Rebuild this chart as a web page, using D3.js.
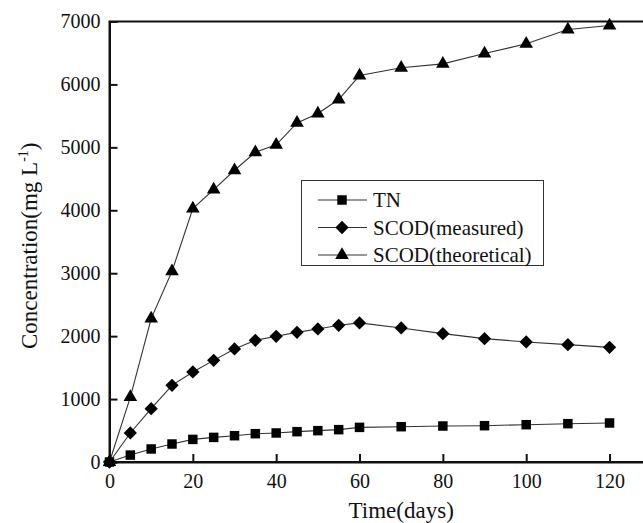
<!DOCTYPE html>
<html>
<head>
<meta charset="utf-8">
<script src="https://cdn.jsdelivr.net/npm/d3@7"></script>
</head>
<body style="margin:0;background:#fff">
<svg id="chart" width="643" height="523" font-family="Liberation Serif" style="display:block"></svg>
<script>
// Sampling days
const days = [0, 5, 10, 15, 20, 25, 30, 35, 40, 45, 50, 55, 60, 70, 80, 90, 100, 110, 120];

// Concentrations (mg/L)
const tn = [0, 110, 207, 286, 359, 391, 418, 450, 461, 482, 498, 514, 550, 561, 572, 577, 593, 609, 620];
const scodMeasured = [0, 461, 847, 1218, 1431, 1615, 1796, 1933, 1997, 2060, 2114, 2172, 2210, 2130, 2040, 1960, 1908, 1865, 1822];
const scodTheoretical = [0, 1030, 2278, 3030, 4027, 4329, 4636, 4922, 5040, 5389, 5537, 5760, 6141, 6264, 6327, 6491, 6645, 6873, 6936];

const seriesNames = ["TN", "SCOD(measured)", "SCOD(theoretical)"];

const xTicks = [0, 20, 40, 60, 80, 100, 120];
const yTicks = [0, 1000, 2000, 3000, 4000, 5000, 6000, 7000];

const FONT = "'Liberation Serif'";

// Apply the serif face both as attribute and inline style
function serif(sel, size) {
  return sel.attr("font-family", FONT).style("font-family", FONT)
            .attr("font-size", size).style("font-size", size + "px");
}

const svg = d3.select("#chart");
const plotLeft = 109.5, plotTop = 21.5, plotBottom = 462;
const pxPerDay = 4.167;
const plotRight = plotLeft + 140 * pxPerDay;

const x = d3.scaleLinear().domain([0, 140]).range([plotLeft, plotRight]);
const y = d3.scaleLinear().domain([0, 7000]).range([plotBottom, plotTop]);

// Marker shapes: filled square, diamond (rotated square), triangle
const markers = [
  { path: d3.symbol().type(d3.symbolSquare).size(90)(), rotate: 0 },
  { path: d3.symbol().type(d3.symbolSquare).size(88)(), rotate: 45 },
  { path: d3.symbol().type(d3.symbolTriangle).size(80)(), rotate: 0 }
];

// Plot frame
svg.append("rect")
  .attr("x", plotLeft).attr("y", plotTop)
  .attr("width", plotRight - plotLeft).attr("height", plotBottom - plotTop)
  .attr("fill", "none").attr("stroke", "#111").attr("stroke-width", 2);

// Axes with inward ticks
const xAxis = d3.axisBottom(x).tickValues(xTicks).tickSize(-8).tickPadding(12).tickFormat(d3.format("d"));
const yAxis = d3.axisLeft(y).tickValues(yTicks).tickSize(-8).tickPadding(9).tickFormat(d3.format("d"));

const gx = svg.append("g").attr("transform", `translate(0,${plotBottom})`).call(xAxis);
const gy = svg.append("g").attr("transform", `translate(${plotLeft},0)`).call(yAxis);
[gx, gy].forEach(g => {
  serif(g, 20);
  g.select(".domain").attr("stroke", "#111").attr("stroke-width", 2);
  g.selectAll(".tick line").attr("stroke", "#111").attr("stroke-width", 2);
  serif(g.selectAll(".tick text"), 20).attr("fill", "#111");
});

// Axis titles
serif(svg.append("text"), 23)
  .attr("x", x(70)).attr("y", 518)
  .attr("text-anchor", "middle").attr("fill", "#111")
  .text("Time(days)");

const yTitle = serif(svg.append("text"), 23)
  .attr("transform", `translate(37,${(plotTop + plotBottom) / 2 + 4}) rotate(-90)`)
  .attr("text-anchor", "middle").attr("fill", "#111");
yTitle.append("tspan").text("Concentration(mg L");
serif(yTitle.append("tspan"), 14).attr("dy", -9).text("-1");
yTitle.append("tspan").attr("dy", 9).text(")");

// Series
const allSeries = [tn, scodMeasured, scodTheoretical];
const line = d3.line().x((d, i) => x(days[i])).y(d => y(d));

allSeries.forEach((vals, si) => {
  svg.append("path")
    .datum(vals)
    .attr("d", line)
    .attr("fill", "none")
    .attr("stroke", "#333")
    .attr("stroke-width", 1.1);
  svg.append("g").selectAll("path")
    .data(vals)
    .join("path")
    .attr("d", markers[si].path)
    .attr("transform", (d, i) => `translate(${x(days[i])},${y(d)}) rotate(${markers[si].rotate})`)
    .attr("fill", "#000");
});

// Legend
const lg = svg.append("g");
lg.append("rect")
  .attr("x", 301.5).attr("y", 180.5).attr("width", 242).attr("height", 85)
  .attr("fill", "#fff").attr("stroke", "#333").attr("stroke-width", 1);
const rowY = [200, 227.5, 255];
seriesNames.forEach((name, si) => {
  lg.append("line")
    .attr("x1", 318).attr("x2", 367).attr("y1", rowY[si]).attr("y2", rowY[si])
    .attr("stroke", "#333").attr("stroke-width", 1.1);
  lg.append("path")
    .attr("d", markers[si].path)
    .attr("transform", `translate(342,${rowY[si]}) rotate(${markers[si].rotate})`)
    .attr("fill", "#000");
  serif(lg.append("text"), 21)
    .attr("x", 373).attr("y", rowY[si] + 7)
    .attr("fill", "#111")
    .text(name);
});
</script>
</body>
</html>
